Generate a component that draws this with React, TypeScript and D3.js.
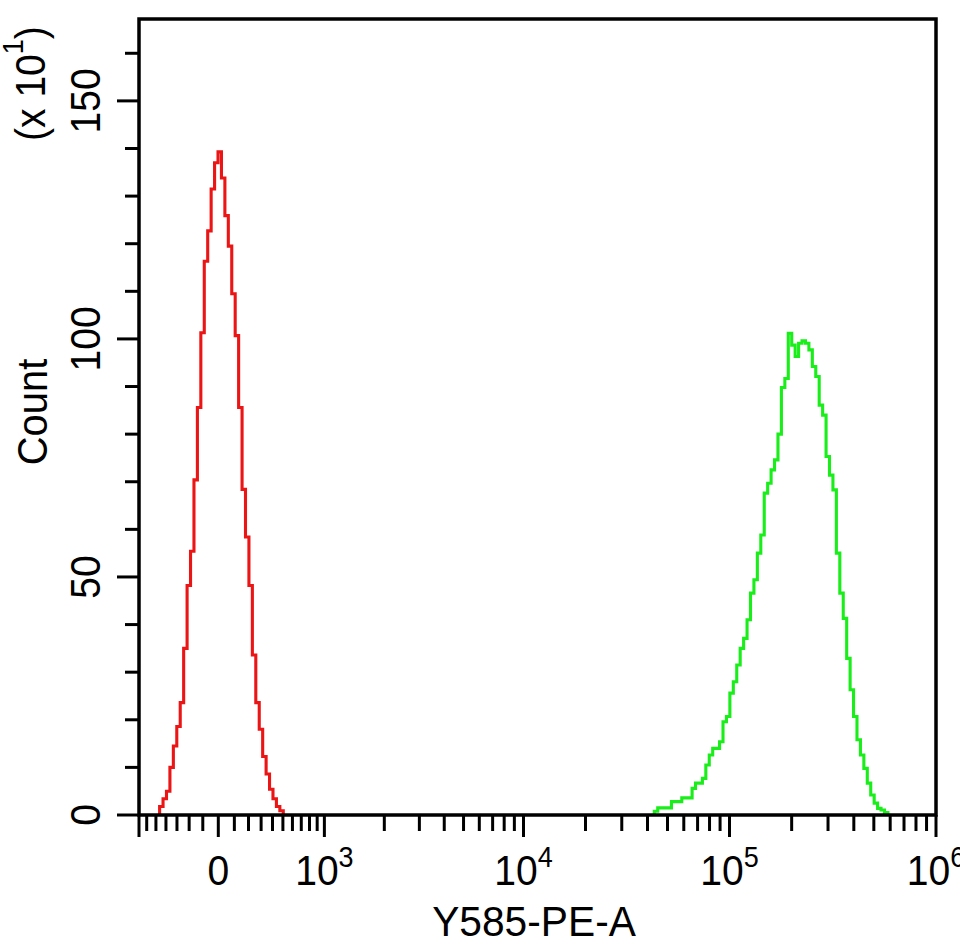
import * as d3 from 'd3'

// Histogram counts per display channel (axis unit: count x 10^1)
const CHANNELS = 232
const redStartChannel = 6
const redCounts = [
  1.8, 3.4, 5.0, 10.0, 14.5, 18.6, 23.6, 35.0, 48.2, 55.4,
  70.4, 85.6, 101.3, 116.3, 122.7, 131.5, 137.0, 139.3, 133.8, 125.9,
  119.5, 109.5, 100.7, 85.6, 68.4, 58.4, 48.2, 33.6, 23.6, 18.0,
  12.3, 8.6, 5.4, 3.4, 1.8, 0.9,
]
const greenStartChannel = 150
const greenCounts = [
  0.8, 1.5, 1.5, 1.5, 1.5, 2.8, 2.8, 2.8, 3.6, 3.6,
  3.6, 5.6, 6.7, 6.7, 7.7, 10.5, 12.6, 14.0, 14.0, 15.4,
  19.6, 20.7, 25.6, 28.0, 31.5, 35.0, 37.1, 41.0, 46.6, 49.4,
  55.0, 58.8, 67.6, 69.7, 72.5, 74.6, 80.0, 89.8, 91.7, 101.2,
  98.7, 96.3, 99.1, 99.6, 99.1, 97.7, 94.2, 92.1, 86.1, 84.0,
  75.3, 71.4, 68.3, 55.0, 46.6, 41.3, 32.9, 26.3, 20.7, 15.8,
  12.6, 9.8, 6.7, 4.2, 2.5, 1.4, 1.05, 0.5,
]

// Y axis (count x 10^1)
const COUNT_MAX = 167.2
const countMajorTicks = [0, 50, 100, 150]
const countMinorTicks = [10, 20, 30, 40, 60, 70, 80, 90, 110, 120, 130, 140, 160]

// X axis (biexponential Y585-PE-A)
const X_MIN = -690
const xMajorTicks = [X_MIN, 0, 1e3, 1e4, 1e5, 1e6]
const xMajorLabels: [string, string][] = [['', ''], ['0', ''], ['10', '3'], ['10', '4'], ['10', '5'], ['10', '6']]
const xMinorTicks = [
  -600, -500, -400, -300, -200, -100,
  100, 200, 300, 400, 500, 600, 700, 800, 900,
  2e3, 3e3, 4e3, 5e3, 6e3, 7e3, 8e3, 9e3,
  2e4, 3e4, 4e4, 5e4, 6e4, 7e4, 8e4, 9e4,
  2e5, 3e5, 4e5, 5e5, 6e5, 7e5, 8e5, 9e5,
]

const plot = { left: 139, right: 936, top: 19, bottom: 815 }
const pw = plot.right - plot.left
// where 0, 10^3, 10^4, 10^5 fall along the axis width
const stops = [0, 0.0995, 0.2326, 0.4824, 0.7409, 1]

const FONT = '"Liberation Sans", Arial, sans-serif'

export default function App() {
  const y = d3.scaleLinear().domain([0, COUNT_MAX]).range([plot.bottom, plot.top])
  const xChannel = d3.scaleLinear().domain([0, CHANNELS]).range([plot.left, plot.right])

  const xLow = d3.scaleSymlog()
    .constant(685)
    .domain([X_MIN, 0, 1e3])
    .range(stops.slice(0, 3).map(f => plot.left + f * pw))
  const xHigh = d3.scaleLog()
    .domain([1e3, 1e4, 1e5, 1e6])
    .range(stops.slice(2).map(f => plot.left + f * pw))
  const xPos = (v: number) => (v <= 1e3 ? xLow(v) : xHigh(v))

  const step = d3.line<[number, number]>()
    .x(d => xChannel(d[0]))
    .y(d => y(d[1]))
    .curve(d3.curveStepAfter)

  const histPoints = (start: number, counts: number[]): [number, number][] => [
    [start, 0],
    ...counts.map((c, i) => [start + i, c] as [number, number]),
    [start + counts.length, 0],
  ]

  return (
    <svg
      width={960}
      height={944}
      style={{ position: 'fixed', top: 0, left: 0, background: '#fff' }}
      fontFamily={FONT}
    >
      {/* histograms */}
      <path d={step(histPoints(redStartChannel, redCounts)) ?? ''} fill="none" stroke="#ec1515" strokeWidth={3.1} />
      <path d={step(histPoints(greenStartChannel, greenCounts)) ?? ''} fill="none" stroke="#1aee1a" strokeWidth={3.1} />

      {/* frame */}
      <rect x={plot.left} y={plot.top} width={pw} height={plot.bottom - plot.top} fill="none" stroke="#000" strokeWidth={3.5} />

      {/* y ticks */}
      {countMinorTicks.map(v => (
        <line key={'ym' + v} x1={plot.left - 14} x2={plot.left} y1={y(v)} y2={y(v)} stroke="#000" strokeWidth={3} />
      ))}
      {countMajorTicks.map(v => (
        <g key={'yM' + v}>
          <line x1={plot.left - 22} x2={plot.left} y1={y(v)} y2={y(v)} stroke="#000" strokeWidth={3} />
          <text
            transform={`translate(100,${y(v)}) rotate(-90) scale(0.93,1)`}
            textAnchor="middle"
            fontSize={42}
          >
            {v}
          </text>
        </g>
      ))}

      {/* x ticks */}
      {xMinorTicks.map(v => (
        <line key={'xm' + v} x1={xPos(v)} x2={xPos(v)} y1={plot.bottom} y2={plot.bottom + 16} stroke="#000" strokeWidth={3} />
      ))}
      {xMajorTicks.map((v, i) => (
        <g key={'xM' + v}>
          <line x1={xPos(v)} x2={xPos(v)} y1={plot.bottom} y2={plot.bottom + 22} stroke="#000" strokeWidth={3} />
          {xMajorLabels[i][0] && (
            <text
              transform={`translate(${xPos(v)},885) scale(0.93,1)`}
              textAnchor="middle"
              fontSize={42}
            >
              {xMajorLabels[i][0]}
              {xMajorLabels[i][1] && (
                <tspan fontSize={29} dy={-18}>{xMajorLabels[i][1]}</tspan>
              )}
            </text>
          )}
        </g>
      ))}

      {/* axis titles */}
      <text transform="translate(534,936) scale(0.97,1)" textAnchor="middle" fontSize={42}>
        Y585-PE-A
      </text>
      <text transform="translate(47,412) rotate(-90) scale(0.95,1)" textAnchor="middle" fontSize={42}>
        Count
      </text>
      <text transform="translate(45,141) rotate(-90) scale(0.93,1)" textAnchor="start" fontSize={42}>
        (x 10<tspan fontSize={29} dy={-22}>1</tspan>
        <tspan dy={22}>)</tspan>
      </text>
    </svg>
  )
}
